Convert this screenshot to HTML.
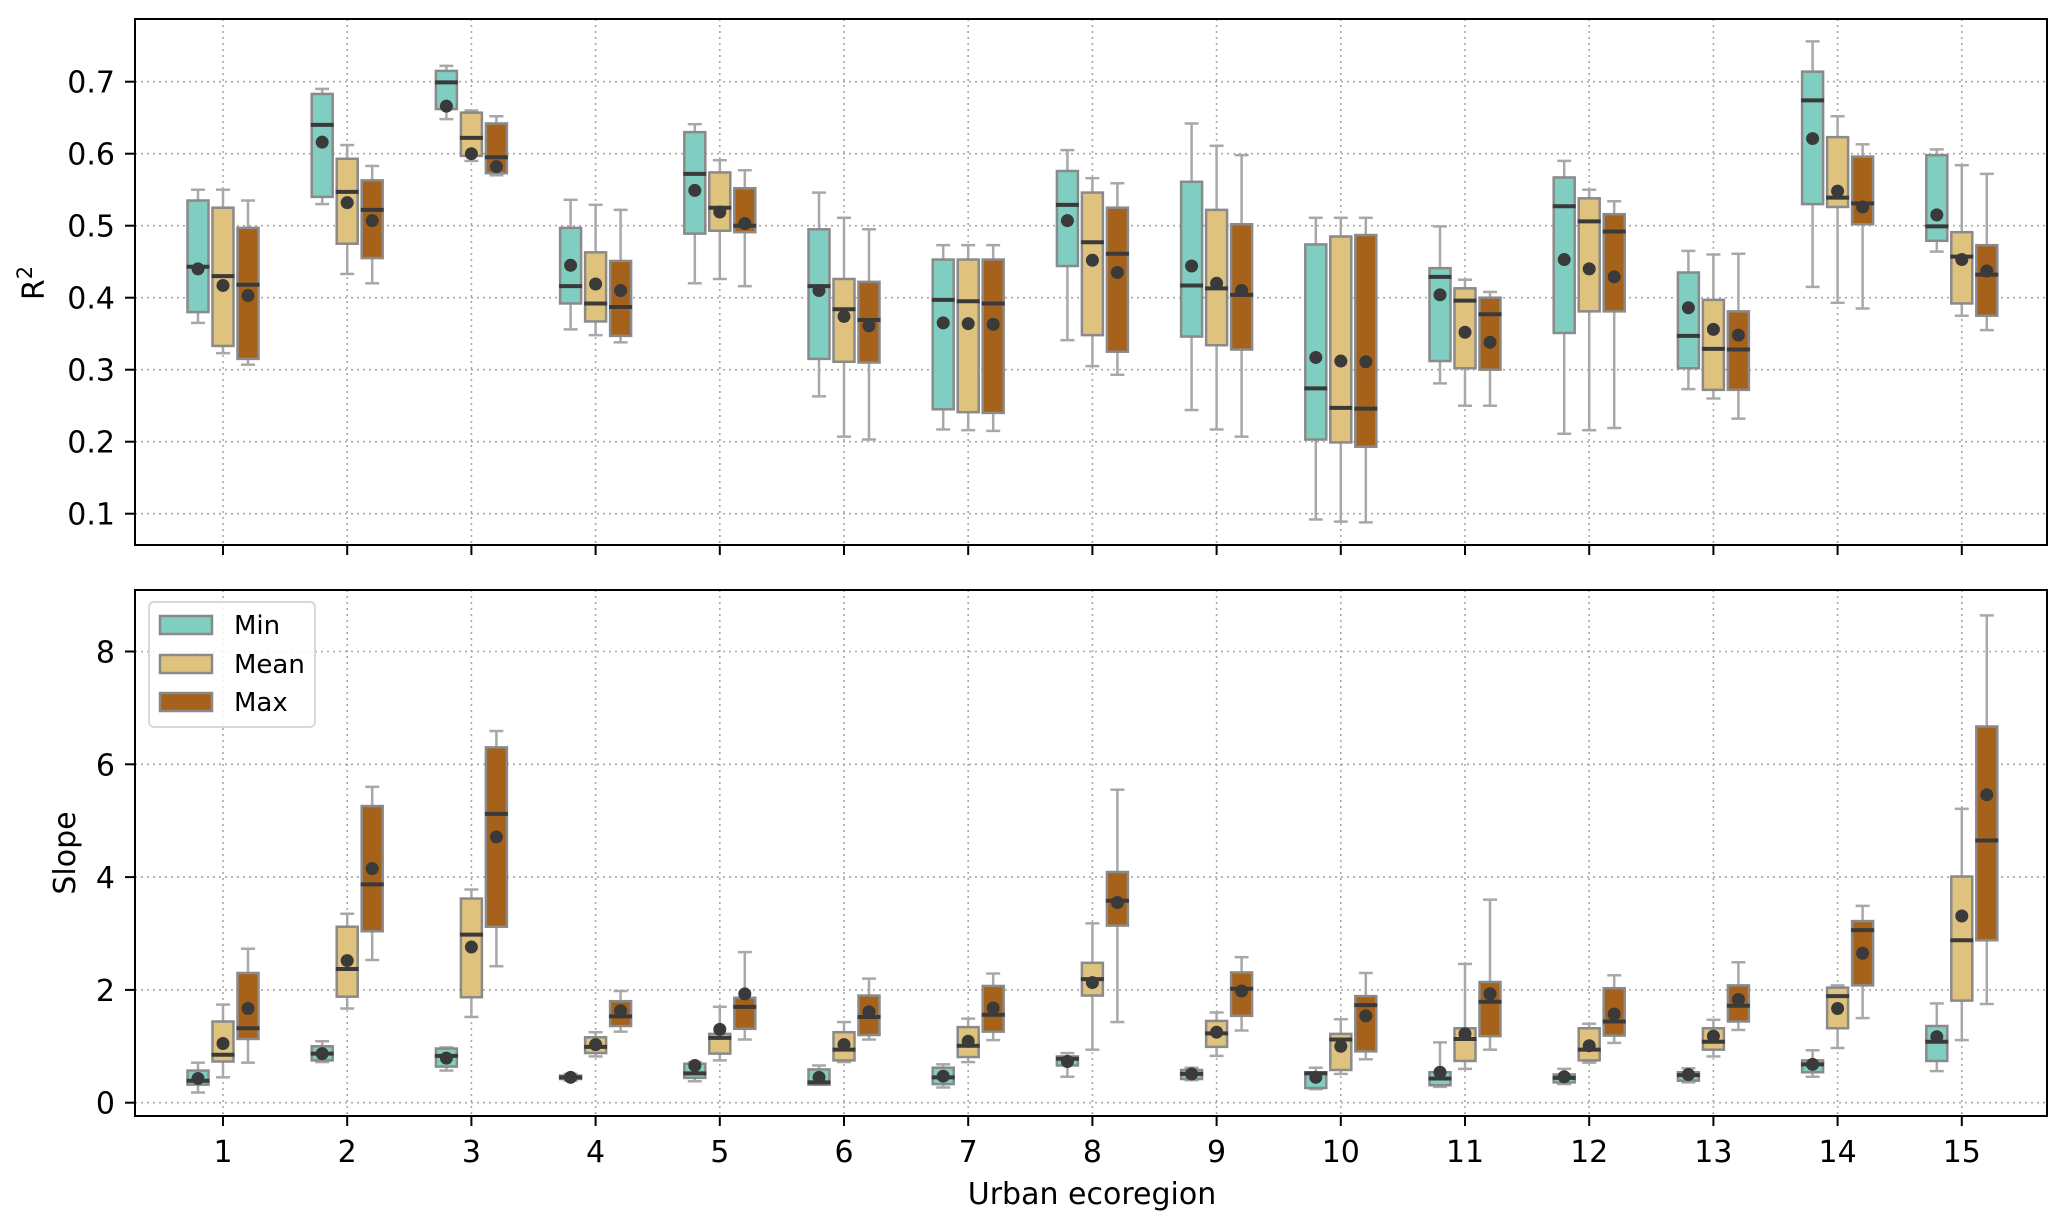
<!DOCTYPE html>
<html><head><meta charset="utf-8">
<style>
html,body{margin:0;padding:0;background:#fff;}
svg{display:block;font-family:"DejaVu Sans","Liberation Sans",sans-serif;}
</style></head>
<body>
<svg id="chart" width="2067" height="1229" viewBox="0 0 2067 1229" xmlns="http://www.w3.org/2000/svg"></svg>
<script>
// categories
const categories = ["1","2","3","4","5","6","7","8","9","10","11","12","13","14","15"];
const seriesNames = ["Min","Mean","Max"];
const seriesColors = ["#80CDC1","#DFC27D","#A6611A"];
// each entry: [whiskerLow, q1, median, q3, whiskerHigh, mean]
const r2Min = [[.365,.38,.443,.535,.55,.44],[.53,.54,.64,.683,.69,.616],[.648,.662,.699,.715,.722,.666],[.356,.392,.416,.497,.536,.445],[.42,.489,.572,.63,.641,.549],[.263,.315,.416,.495,.546,.41],[.217,.245,.397,.453,.473,.365],[.341,.444,.529,.576,.605,.507],[.244,.346,.417,.561,.642,.444],[.092,.203,.274,.474,.511,.317],[.281,.312,.429,.441,.499,.404],[.211,.351,.527,.567,.59,.453],[.273,.302,.347,.435,.465,.386],[.415,.53,.674,.714,.756,.621],[.464,.479,.499,.598,.606,.515]];
const r2Mean = [[.323,.333,.43,.525,.55,.417],[.433,.475,.547,.593,.612,.532],[.59,.597,.622,.657,.66,.6],[.348,.367,.392,.463,.529,.419],[.426,.493,.525,.574,.591,.519],[.207,.311,.384,.426,.511,.374],[.216,.241,.395,.453,.473,.364],[.305,.348,.477,.546,.566,.452],[.217,.334,.413,.522,.611,.42],[.089,.199,.247,.485,.511,.312],[.25,.302,.396,.413,.425,.352],[.216,.381,.506,.538,.55,.44],[.26,.272,.329,.397,.46,.356],[.393,.526,.539,.623,.652,.548],[.375,.392,.457,.491,.584,.453]];
const r2Max = [[.307,.315,.418,.497,.535,.403],[.42,.455,.522,.563,.583,.507],[.57,.573,.595,.642,.652,.582],[.338,.347,.387,.451,.522,.41],[.416,.491,.5,.552,.577,.503],[.203,.31,.369,.422,.495,.361],[.215,.24,.392,.453,.473,.363],[.293,.325,.461,.525,.559,.435],[.207,.328,.404,.502,.598,.41],[.088,.193,.246,.487,.511,.311],[.25,.3,.377,.4,.408,.338],[.219,.381,.492,.516,.534,.429],[.232,.272,.328,.381,.461,.348],[.385,.502,.531,.596,.613,.526],[.355,.375,.432,.473,.572,.437]];
const slopeMin = [[.18,.32,.39,.57,.71,.43],[.72,.75,.87,1.0,1.09,.87],[.57,.64,.83,.96,.98,.79],[.39,.42,.45,.48,.51,.45],[.38,.44,.52,.69,.72,.66],[.32,.32,.36,.59,.66,.45],[.27,.33,.45,.62,.68,.47],[.46,.66,.78,.82,.88,.73],[.40,.42,.51,.58,.62,.51],[.24,.26,.52,.54,.62,.45],[.28,.31,.43,.54,1.07,.54],[.33,.36,.44,.50,.60,.46],[.36,.39,.49,.54,.61,.50],[.46,.54,.68,.75,.93,.68],[.56,.74,1.08,1.36,1.76,1.17]];
const slopeMean = [[.45,.73,.85,1.44,1.74,1.05],[1.67,1.88,2.37,3.12,3.35,2.52],[1.52,1.87,2.98,3.62,3.78,2.76],[.82,.88,.99,1.16,1.25,1.03],[.75,.87,1.15,1.22,1.70,1.30],[.72,.75,.94,1.25,1.43,1.03],[.72,.81,1.01,1.34,1.49,1.09],[.94,1.90,2.19,2.48,3.18,2.13],[.83,.99,1.23,1.45,1.60,1.25],[.51,.58,1.12,1.22,1.48,1.0],[.60,.74,1.13,1.32,2.46,1.22],[.71,.75,.94,1.32,1.40,1.01],[.82,.94,1.08,1.32,1.47,1.18],[.97,1.32,1.89,2.04,2.08,1.67],[1.11,1.81,2.88,4.01,5.21,3.31]];
const slopeMax = [[.71,1.13,1.32,2.30,2.73,1.67],[2.53,3.04,3.87,5.26,5.60,4.15],[2.42,3.12,5.12,6.30,6.59,4.71],[1.26,1.36,1.53,1.80,1.98,1.63],[1.12,1.31,1.70,1.86,2.67,1.93],[1.12,1.20,1.52,1.90,2.20,1.61],[1.11,1.26,1.56,2.07,2.29,1.68],[1.43,3.14,3.58,4.09,5.55,3.55],[1.28,1.54,2.02,2.31,2.58,1.98],[.77,.91,1.73,1.89,2.30,1.54],[.94,1.18,1.79,2.14,3.60,1.93],[1.06,1.19,1.44,2.03,2.26,1.57],[1.29,1.44,1.72,2.08,2.49,1.83],[1.50,2.08,3.06,3.22,3.49,2.65],[1.75,2.88,4.65,6.67,8.64,5.46]];
const r2Ticks = [0.1,0.2,0.3,0.4,0.5,0.6,0.7];
const r2TickLabels = ["0.1","0.2","0.3","0.4","0.5","0.6","0.7"];
const slopeTicks = [0,2,4,6,8];
const slopeTickLabels = ["0","2","4","6","8"];

const NS = "http://www.w3.org/2000/svg";
const svg = document.getElementById("chart");
function mk(tag, attrs, parent){ const e=document.createElementNS(NS,tag); for(const k in attrs) e.setAttribute(k,attrs[k]); (parent||svg).appendChild(e); return e; }

const L=135, R=2047, catStep=124.2, firstCat=223;
function xCat(i){ return firstCat + i*catStep; }
const offsets=[-25,0,25], boxW=21, capW=12;

function panel(name, top, bottom, yOf, ticks, tickLabels, datasets, showX){
  const g = mk("g",{});
  
  
  categories.forEach((c,i)=>{ const ln=mk("line",{x1:xCat(i),x2:xCat(i),y1:top,y2:bottom,stroke:"#a8a8a8","stroke-width":1.6,"stroke-dasharray":"2,4"},g);
      });
  ticks.forEach((t,k)=>{ const y=yOf(t);
    const ln=mk("line",{x1:L,x2:R,y1:y,y2:y,stroke:"#a8a8a8","stroke-width":1.6,"stroke-dasharray":"2,4"},g);
     
    mk("line",{x1:L-10,x2:L,y1:y,y2:y,stroke:"#000","stroke-width":2},g);
    const tx=mk("text",{x:L-20,y:y+11,"text-anchor":"end","font-size":30,fill:"#000"},g); tx.textContent=tickLabels[k];
     
  });
  datasets.forEach((ds,s)=>{
    ds.forEach((d,i)=>{
      const cx=xCat(i)+offsets[s];
      const bg=mk("g",{},g);
      
      
      const wc="#a8a8a8";
      mk("line",{x1:cx,x2:cx,y1:yOf(d[0]),y2:yOf(d[1]),stroke:wc,"stroke-width":2.5},bg);
      mk("line",{x1:cx,x2:cx,y1:yOf(d[3]),y2:yOf(d[4]),stroke:wc,"stroke-width":2.5},bg);
      mk("line",{x1:cx-capW/2-1,x2:cx+capW/2+1,y1:yOf(d[0]),y2:yOf(d[0]),stroke:wc,"stroke-width":2.5},bg);
      mk("line",{x1:cx-capW/2-1,x2:cx+capW/2+1,y1:yOf(d[4]),y2:yOf(d[4]),stroke:wc,"stroke-width":2.5},bg);
      const y3=yOf(d[3]), y1=yOf(d[1]);
      mk("rect",{x:cx-boxW/2,y:y3,width:boxW,height:Math.max(1,y1-y3),fill:seriesColors[s],stroke:"#8a8a8a","stroke-width":2.5},bg);
      mk("line",{x1:cx-boxW/2-1,x2:cx+boxW/2+1,y1:yOf(d[2]),y2:yOf(d[2]),stroke:"#3a3a3a","stroke-width":4},bg);
      mk("circle",{cx:cx,cy:yOf(d[5]),r:6.5,fill:"#3a3a3a"},bg);
    });
  });
  const fr=mk("rect",{x:L,y:top,width:R-L,height:bottom-top,fill:"none",stroke:"#000","stroke-width":2},g);
   
  categories.forEach((c,i)=>{ mk("line",{x1:xCat(i),x2:xCat(i),y1:bottom,y2:bottom+10,stroke:"#000","stroke-width":2},g);
    if(showX){ const t=mk("text",{x:xCat(i),y:bottom+46,"text-anchor":"middle","font-size":30,fill:"#000"},g); t.textContent=c;
        }
  });
  return g;
}

const tTop=19, tBot=545;
const yR2 = v => 297.7 - (v-0.4)*720;
panel("r2", tTop, tBot, yR2, r2Ticks, r2TickLabels, [r2Min,r2Mean,r2Max], false);
const yl1=mk("text",{x:0,y:0,"font-size":30,"text-anchor":"middle",transform:"translate(44,283) rotate(-90)"});


yl1.innerHTML='R<tspan dy="-12" font-size="21">2</tspan>';

const bTop=590, bBot=1116;
const ySlope = v => 1102.7 - v*56.4;
panel("slope", bTop, bBot, ySlope, slopeTicks, slopeTickLabels, [slopeMin,slopeMean,slopeMax], true);
const yl2=mk("text",{x:0,y:0,"font-size":30,"text-anchor":"middle",transform:"translate(75,853) rotate(-90)"});
yl2.textContent="Slope";



const xl=mk("text",{x:1092,y:1204,"font-size":30,"text-anchor":"middle"});
xl.textContent="Urban ecoregion";



const lg=mk("g",{});


mk("rect",{x:149,y:602,width:166,height:125,rx:5,fill:"#fff","fill-opacity":0.85,stroke:"#d8d8d8","stroke-width":2},lg);
const rowsY=[625,664,702];
seriesNames.forEach((n,s)=>{
  const e=mk("g",{},lg);
  
  
  mk("rect",{x:160,y:rowsY[s]-9,width:52,height:18,fill:seriesColors[s],stroke:"#8a8a8a","stroke-width":2.5},e);
  const t=mk("text",{x:234,y:rowsY[s]+9,"font-size":26},e); t.textContent=n;
});
</script>
</body></html>
